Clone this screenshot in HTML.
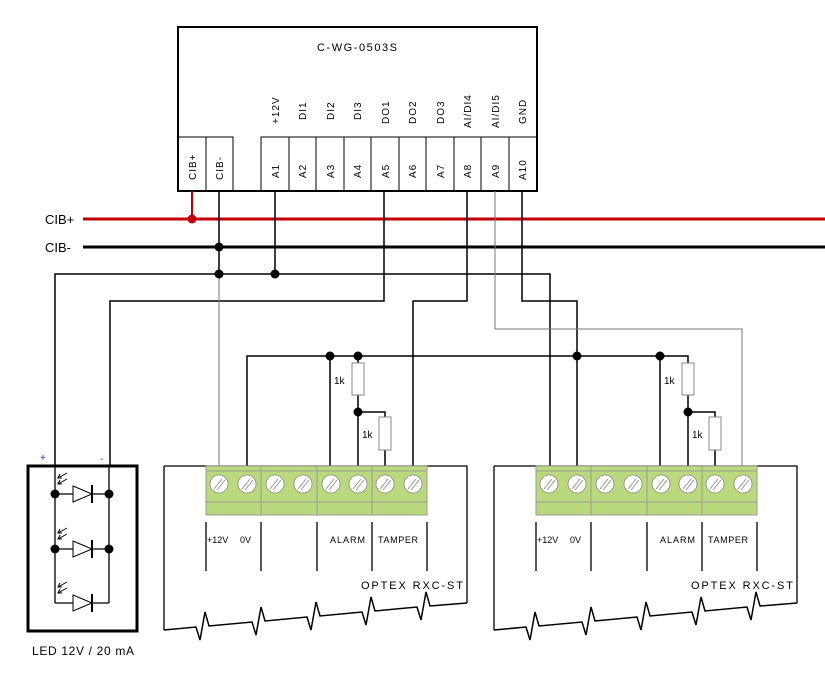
<!DOCTYPE html>
<html><head><meta charset="utf-8"><style>
html,body{margin:0;padding:0;background:#fff;}
svg{display:block;}
text{font-family:"Liberation Sans",sans-serif;fill:#000;}
</style></head><body>
<svg width="825" height="683" viewBox="0 0 825 683" xmlns="http://www.w3.org/2000/svg">
<defs>
<g id="optex">
  <polyline points="0,0 303,0 303,137" fill="none" stroke="#000" stroke-width="1.3"/>
  <line x1="0" y1="0" x2="0" y2="164" stroke="#000" stroke-width="1.3"/>
  <path d="M0,164 L32,161 L36,174 L41,146 L45,160 L88,156 L92,169 L97,141 L101,155 L143,151 L147,164 L152,136 L156,150 L198,146 L202,159 L207,131 L211,145 L253,141 L257,154 L262,126 L266,140 L303,137" fill="none" stroke="#000" stroke-width="1.5"/>
  <rect x="42" y="0" width="221" height="49" fill="#b9d97c" stroke="#9a9a9a" stroke-width="1"/>
  <line x1="42" y1="5" x2="263" y2="5" stroke="#9a9a9a"/>
  <line x1="42" y1="36" x2="263" y2="36" stroke="#9a9a9a"/>
  <line x1="97" y1="0" x2="97" y2="49" stroke="#9a9a9a"/>
  <line x1="153" y1="0" x2="153" y2="49" stroke="#9a9a9a"/>
  <line x1="208" y1="0" x2="208" y2="49" stroke="#9a9a9a"/>
  <g stroke="#888" stroke-width="0.8" fill="#fff">
    <circle cx="55" cy="18" r="9"/><circle cx="83" cy="18" r="9"/>
    <circle cx="111" cy="18" r="9"/><circle cx="139" cy="18" r="9"/>
    <circle cx="167" cy="18" r="9"/><circle cx="194" cy="18" r="9"/>
    <circle cx="221" cy="18" r="9"/><circle cx="249" cy="18" r="9"/>
  </g>
  <g stroke="#888" stroke-width="0.8">
    <path d="M50,23 l8,-10 M53,24 l8,-10"/><path d="M78,23 l8,-10 M81,24 l8,-10"/>
    <path d="M106,23 l8,-10 M109,24 l8,-10"/><path d="M134,23 l8,-10 M137,24 l8,-10"/>
    <path d="M162,23 l8,-10 M165,24 l8,-10"/><path d="M189,23 l8,-10 M192,24 l8,-10"/>
    <path d="M216,23 l8,-10 M219,24 l8,-10"/><path d="M244,23 l8,-10 M247,24 l8,-10"/>
  </g>
  <g stroke="#000" stroke-width="1.3">
    <line x1="42" y1="56" x2="42" y2="105"/><line x1="97" y1="56" x2="97" y2="105"/>
    <line x1="153" y1="56" x2="153" y2="105"/><line x1="208" y1="56" x2="208" y2="105"/>
    <line x1="263" y1="56" x2="263" y2="105"/>
  </g>
  <text x="43" y="77" font-size="9">+12V</text>
  <text x="76" y="77" font-size="9">0V</text>
  <text x="166" y="77" font-size="9" textLength="35">ALARM</text>
  <text x="214" y="77" font-size="9" textLength="40">TAMPER</text>
  <text x="197" y="123" font-size="11" textLength="102">OPTEX RXC-ST</text>
</g>
</defs>

<!-- module -->
<rect x="178" y="27" width="359" height="164" fill="#fff" stroke="#000" stroke-width="2"/>
<text x="317" y="51" font-size="11" textLength="80">C-WG-0503S</text>
<g stroke="#000" stroke-width="1" fill="none">
  <polyline points="178,137 233,137 233,191"/>
  <line x1="206" y1="137" x2="206" y2="191"/>
  <polyline points="261,191 261,137 537,137"/>
  <line x1="289" y1="137" x2="289" y2="191"/><line x1="316" y1="137" x2="316" y2="191"/>
  <line x1="344" y1="137" x2="344" y2="191"/><line x1="371" y1="137" x2="371" y2="191"/>
  <line x1="399" y1="137" x2="399" y2="191"/><line x1="426" y1="137" x2="426" y2="191"/>
  <line x1="454" y1="137" x2="454" y2="191"/><line x1="481" y1="137" x2="481" y2="191"/>
  <line x1="509" y1="137" x2="509" y2="191"/>
</g>
<g font-size="10" letter-spacing="1">
  <text transform="translate(196,180) rotate(-90)">CIB+</text>
  <text transform="translate(223,180) rotate(-90)">CIB-</text>
  <text transform="translate(279,178) rotate(-90)">A1</text>
  <text transform="translate(306,178) rotate(-90)">A2</text>
  <text transform="translate(334,178) rotate(-90)">A3</text>
  <text transform="translate(361,178) rotate(-90)">A4</text>
  <text transform="translate(389,178) rotate(-90)">A5</text>
  <text transform="translate(416,178) rotate(-90)">A6</text>
  <text transform="translate(444,178) rotate(-90)">A7</text>
  <text transform="translate(471,178) rotate(-90)">A8</text>
  <text transform="translate(499,178) rotate(-90)">A9</text>
  <text transform="translate(526,180) rotate(-90)">A10</text>
  <text transform="translate(279,124) rotate(-90)">+12V</text>
  <text transform="translate(306,120) rotate(-90)">DI1</text>
  <text transform="translate(334,120) rotate(-90)">DI2</text>
  <text transform="translate(361,120) rotate(-90)">DI3</text>
  <text transform="translate(389,124) rotate(-90)">DO1</text>
  <text transform="translate(416,124) rotate(-90)">DO2</text>
  <text transform="translate(444,124) rotate(-90)">DO3</text>
  <text transform="translate(471,128) rotate(-90)">AI/DI4</text>
  <text transform="translate(499,128) rotate(-90)">AI/DI5</text>
  <text transform="translate(526,124) rotate(-90)">GND</text>
</g>

<!-- buses -->
<text x="45" y="224" font-size="13">CIB+</text>
<text x="45" y="252" font-size="13">CIB-</text>
<line x1="83" y1="219" x2="825" y2="219" stroke="#c00000" stroke-width="3"/>
<line x1="192" y1="191" x2="192" y2="219" stroke="#c00000" stroke-width="2"/>
<circle cx="192" cy="219" r="4.5" fill="#c00000"/>
<line x1="83" y1="247" x2="825" y2="247" stroke="#000" stroke-width="3"/>

<g stroke="#000" stroke-width="1.5" fill="none">
  <line x1="219" y1="191" x2="219" y2="274"/>
  <line x1="275" y1="191" x2="275" y2="274"/>
  <polyline points="55,466 55,274 550,274 550,466"/>
  <polyline points="384,191 384,301 110,301 110,466"/>
  <polyline points="467,191 467,301 413,301 413,466"/>
  <polyline points="522,191 522,301 577,301 577,466"/>
  <polyline points="247,466 247,356 688,356 688,363"/>
  <line x1="330" y1="356" x2="330" y2="466"/>
  <line x1="358" y1="356" x2="358" y2="363"/>
  <polyline points="358,395 358,466"/>
  <polyline points="358,412 385,412 385,417"/>
  <line x1="385" y1="450" x2="385" y2="466"/>
  <line x1="660" y1="356" x2="660" y2="466"/>
  <polyline points="688,395 688,466"/>
  <polyline points="688,412 715,412 715,417"/>
  <line x1="715" y1="450" x2="715" y2="466"/>
</g>
<g stroke="#777" stroke-width="1" fill="none">
  <line x1="219" y1="274" x2="219" y2="466"/>
  <polyline points="495,191 495,329 742,329 742,466"/>
</g>
<g stroke="#888" stroke-width="1" fill="#fff">
  <rect x="352" y="363" width="12" height="32"/>
  <rect x="379" y="417" width="12" height="33"/>
  <rect x="682" y="363" width="12" height="32"/>
  <rect x="709" y="417" width="12" height="33"/>
</g>
<g font-size="10">
  <text x="334" y="384">1k</text><text x="362" y="438">1k</text>
  <text x="664" y="384">1k</text><text x="692" y="438">1k</text>
</g>
<g fill="#000">
  <circle cx="219" cy="247" r="4.5"/><circle cx="219" cy="274" r="4.5"/><circle cx="275" cy="274" r="4.5"/>
  <circle cx="330" cy="356" r="4.5"/><circle cx="358" cy="356" r="4.5"/><circle cx="358" cy="412" r="4.5"/>
  <circle cx="577" cy="356" r="4.5"/><circle cx="660" cy="356" r="4.5"/><circle cx="688" cy="412" r="4.5"/>
</g>

<use href="#optex" x="164" y="466"/>
<use href="#optex" x="494" y="466"/>

<!-- LED -->
<rect x="28" y="466" width="109" height="165" fill="none" stroke="#000" stroke-width="3"/>
<text x="40" y="461" font-size="10" style="fill:#2030c0">+</text>
<text x="100" y="462" font-size="10" style="fill:#2030c0">-</text>
<g stroke="#000" stroke-width="1.3" fill="none">
  <line x1="55" y1="466" x2="55" y2="603"/><line x1="109" y1="466" x2="109" y2="603"/>
  <line x1="55" y1="494" x2="109" y2="494"/><line x1="55" y1="549" x2="109" y2="549"/><line x1="55" y1="603" x2="109" y2="603"/>
</g>
<g stroke="#000" stroke-width="1" fill="#fff">
  <polygon points="73,486 92,494 73,502"/><polygon points="73,541 92,549 73,557"/><polygon points="73,595 92,603 73,611"/>
</g>
<g stroke="#000" stroke-width="2">
  <line x1="92" y1="485" x2="92" y2="503"/><line x1="92" y1="540" x2="92" y2="558"/><line x1="92" y1="594" x2="92" y2="612"/>
</g>
<g stroke="#000" stroke-width="1" fill="none">
  <path d="M58,478 l9,-5 M58,484 l9,-5 M60,474 l-2,4 l4,0 M60,480 l-2,4 l4,0"/>
  <path d="M58,533 l9,-5 M58,539 l9,-5 M60,529 l-2,4 l4,0 M60,535 l-2,4 l4,0"/>
  <path d="M58,587 l9,-5 M58,593 l9,-5 M60,583 l-2,4 l4,0 M60,589 l-2,4 l4,0"/>
</g>
<g fill="#000">
  <circle cx="55" cy="494" r="4.5"/><circle cx="109" cy="494" r="4.5"/>
  <circle cx="55" cy="549" r="4.5"/><circle cx="109" cy="549" r="4.5"/>
</g>
<text x="32" y="655" font-size="12" textLength="102">LED 12V / 20 mA</text>
</svg>
</body></html>
